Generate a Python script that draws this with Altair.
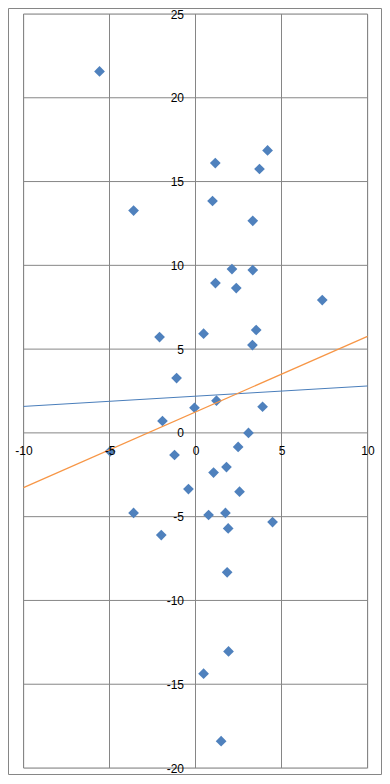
import altair as alt
import pandas as pd

# scatter points
pt_x = [-5.58, 1.15, 4.19, 3.72, 0.99, 3.33, -3.60, 2.12, 3.33, 1.16,
        2.37, 7.37, -2.09, 0.47, 3.53, 3.31, -1.10, 1.22, -0.06, 3.90,
        -1.92, 3.08, 2.48, -1.22, 1.80, 1.05, -0.41, 2.56, -3.60, 0.76,
        1.74, 4.48, 1.90, -1.99, 1.84, 1.92, 0.47, 1.49, -4.96]
pt_y = [21.57, 16.10, 16.86, 15.75, 13.84, 12.66, 13.27, 9.78, 9.72, 8.94,
        8.64, 7.93, 5.72, 5.92, 6.14, 5.24, 3.27, 1.92, 1.50, 1.56,
        0.71, 0.00, -0.84, -1.32, -2.04, -2.37, -3.35, -3.51, -4.78, -4.90,
        -4.78, -5.32, -5.70, -6.10, -8.32, -13.04, -14.37, -18.40, -1.10]

# two straight lines (end points)
line_x = [-10, 10]
blue_line_y = [1.58, 2.80]
orange_line_y = [-3.27, 5.76]

x_ticks = [-10, -5, 0, 5, 10]
y_ticks = [-20, -15, -10, -5, 0, 5, 10, 15, 20, 25]

GRAY = "#868686"
FONT = "Liberation Sans"
W, H = 344, 754
PAD = {"left": 15.5, "top": 6, "right": 14.5, "bottom": 7}

xs = alt.Scale(domain=[-10, 10], nice=False, zero=False)
ys = alt.Scale(domain=[-20, 25], nice=False, zero=False)

y0_pos = 25 / 45 * H

ax_x = alt.Axis(values=x_ticks, domain=False, ticks=False, tickSize=0, grid=False,
                labelPadding=12.5, labelFlush=False, labelOverlap=False,
                offset=-(H - y0_pos), title=None, labelFont=FONT, labelFontSize=12,
                labelColor="black", labelExpr="datum.value + ''", zindex=1)
ax_y = alt.Axis(values=y_ticks, domain=False, ticks=False, tickSize=0, grid=False,
                labelPadding=12, labelFlush=False, labelOverlap=False,
                offset=-W / 2, title=None, labelFont=FONT, labelFontSize=12,
                labelColor="black", labelExpr="datum.value + ''", zindex=1)

vgrid = alt.Chart(pd.DataFrame({"x": x_ticks})).mark_rule(color=GRAY, strokeWidth=1).encode(
    x=alt.X("x:Q", scale=xs, axis=ax_x))
hgrid = alt.Chart(pd.DataFrame({"y": y_ticks})).mark_rule(color=GRAY, strokeWidth=1).encode(
    y=alt.Y("y:Q", scale=ys, axis=ax_y))

border = alt.Chart(pd.DataFrame({"a": [0]})).mark_rect(
    fillOpacity=0, stroke=GRAY, strokeWidth=1).encode(
    x=alt.value(-PAD["left"] + 0.5), x2=alt.value(W + PAD["right"] - 0.5),
    y=alt.value(-PAD["top"] + 0.5), y2=alt.value(H + PAD["bottom"] - 0.5))

pts = alt.Chart(pd.DataFrame({"x": pt_x, "y": pt_y})).mark_point(
    shape="diamond", filled=True, size=115, color="#4F81BD", opacity=1).encode(
    x=alt.X("x:Q", scale=xs, axis=ax_x),
    y=alt.Y("y:Q", scale=ys, axis=ax_y))

blue = alt.Chart(pd.DataFrame({"x": line_x, "y": blue_line_y})).mark_line(
    color="#4A7EBB", strokeWidth=1).encode(
    x=alt.X("x:Q", scale=xs, axis=ax_x),
    y=alt.Y("y:Q", scale=ys, axis=ax_y))

orange = alt.Chart(pd.DataFrame({"x": line_x, "y": orange_line_y})).mark_line(
    color="#F79646", strokeWidth=1.25).encode(
    x=alt.X("x:Q", scale=xs, axis=ax_x),
    y=alt.Y("y:Q", scale=ys, axis=ax_y))

chart = alt.layer(hgrid, vgrid, border, pts, blue, orange).properties(
    width=W, height=H,
    autosize=alt.AutoSizeParams(type="none"),
    padding=PAD,
).configure_view(stroke=GRAY, strokeWidth=1).configure(background="white")

chart.save("out.html", embed_options={"renderer": "svg", "actions": False})
